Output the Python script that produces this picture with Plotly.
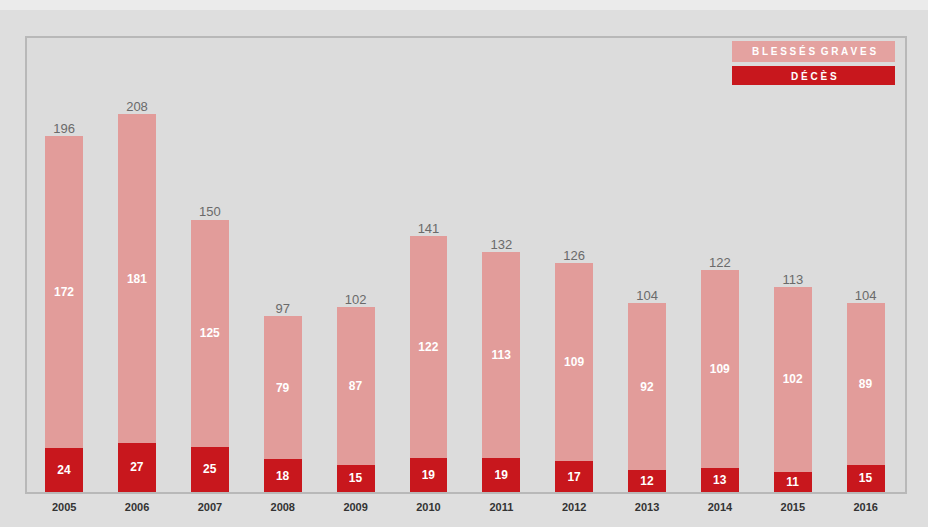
import plotly.graph_objects as go

years = ["2005", "2006", "2007", "2008", "2009", "2010", "2011", "2012", "2013", "2014", "2015", "2016"]
deces = [24, 27, 25, 18, 15, 19, 19, 17, 12, 13, 11, 15]
blesses = [172, 181, 125, 79, 87, 122, 113, 109, 92, 109, 102, 89]
totals = [d + b for d, b in zip(deces, blesses)]

PINK = "#e29c9a"
RED = "#c8171d"
W, H = 928, 527
ML, MR, MT, MB = 27, 23, 38, 35
PW, PH = W - ML - MR, H - MT - MB

def px(x):
    return (x - ML) / PW

def py(y):
    return 1 - (y - MT) / PH

fig = go.Figure()
fig.add_trace(go.Bar(
    x=years, y=deces, name="DÉCÈS", marker_color=RED, marker_line_width=0,
    text=deces, textposition="inside", insidetextanchor="middle", textangle=0,
    textfont=dict(color="white", size=12, family="Liberation Sans", weight="bold"),
    width=0.52,
))
fig.add_trace(go.Bar(
    x=years, y=blesses, name="BLESSÉS GRAVES", marker_color=PINK, marker_line_width=0,
    text=blesses, textposition="inside", insidetextanchor="middle", textangle=0,
    textfont=dict(color="white", size=12, family="Liberation Sans", weight="bold"),
    width=0.52,
))
fig.add_trace(go.Scatter(
    x=years, y=totals, mode="text", text=totals, textposition="top center",
    textfont=dict(color="#6a6a6a", size=13, family="Liberation Sans"),
    showlegend=False, hoverinfo="skip", cliponaxis=False,
))

shapes = [
    dict(type="rect", xref="paper", yref="paper", x0=px(-5), x1=px(W + 5), y0=py(10), y1=py(-5),
         fillcolor="#ebebeb", line_width=0, layer="below"),
    dict(type="rect", xref="paper", yref="paper", x0=px(732), x1=px(895), y0=py(62), y1=py(41),
         fillcolor="#e4a2a0", line_width=0),
    dict(type="rect", xref="paper", yref="paper", x0=px(732), x1=px(895), y0=py(85), y1=py(66),
         fillcolor=RED, line_width=0),
]
annotations = [
    dict(xref="paper", yref="paper", x=px(813.5), y=py(51.5), text="B L E S S É S  G R A V E S",
         xanchor="center", yanchor="middle",
         showarrow=False, font=dict(color="white", size=10, family="Liberation Sans", weight="bold")),
    dict(xref="paper", yref="paper", x=px(813.5), y=py(75.5), text="D É C È S",
         xanchor="center", yanchor="middle",
         showarrow=False, font=dict(color="white", size=10, family="Liberation Sans", weight="bold")),
]

fig.update_layout(
    width=W, height=H, barmode="stack",
    margin=dict(l=ML, r=MR, t=MT, b=MB),
    paper_bgcolor="#dedede", plot_bgcolor="#dcdcdc",
    showlegend=False, bargap=0.48,
    shapes=shapes, annotations=annotations,
    uniformtext=dict(minsize=11, mode="show"),
)
fig.update_xaxes(
    type="category", range=[-0.51, 11.54], showgrid=False,
    showline=True, linecolor="#b8b8b8", linewidth=2, mirror=True,
    tickfont=dict(color="#333333", size=11, family="Liberation Sans", weight="bold"),
    ticks="", ticklabelstandoff=4,
)
fig.update_yaxes(
    range=[0, 250], showgrid=False, showticklabels=False, zeroline=False,
    showline=True, linecolor="#b8b8b8", linewidth=2, mirror=True,
)

fig.write_html("out.html")
